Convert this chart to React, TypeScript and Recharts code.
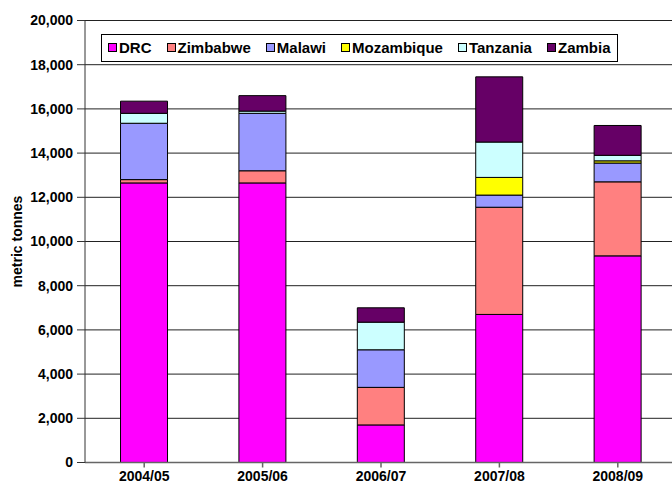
import { Bar, BarChart, CartesianGrid, Label, Legend, XAxis, YAxis } from "recharts";

const YEARS = ["2004/05", "2005/06", "2006/07", "2007/08", "2008/09"];
const DRC = [12650, 12650, 1700, 6700, 9350];
const ZIMBABWE = [150, 550, 1700, 4850, 3350];
const MALAWI = [2550, 2600, 1700, 550, 850];
const MOZAMBIQUE = [0, 0, 0, 800, 100];
const TANZANIA = [450, 100, 1250, 1600, 250];
const ZAMBIA = [550, 700, 650, 2950, 1350];
const Y_TICKS = [0, 2000, 4000, 6000, 8000, 10000, 12000, 14000, 16000, 18000, 20000];

const SERIES = [
  { key: "drc", name: "DRC", color: "#ff00ff", values: DRC },
  { key: "zimbabwe", name: "Zimbabwe", color: "#ff8080", values: ZIMBABWE },
  { key: "malawi", name: "Malawi", color: "#9999ff", values: MALAWI },
  { key: "mozambique", name: "Mozambique", color: "#ffff00", values: MOZAMBIQUE },
  { key: "tanzania", name: "Tanzania", color: "#ccffff", values: TANZANIA },
  { key: "zambia", name: "Zambia", color: "#660066", values: ZAMBIA },
];

const data = YEARS.map((year, i) => {
  const row: Record<string, string | number> = { year };
  SERIES.forEach((s) => {
    row[s.key] = s.values[i];
  });
  return row;
});

const FONT = "'Liberation Sans', Arial, sans-serif";

function LegendBox() {
  return (
    <div
      style={{
        boxSizing: "border-box",
        width: 517,
        height: 28,
        border: "1px solid #000",
        background: "#fff",
        display: "flex",
        alignItems: "center",
        paddingLeft: 6,
        gap: 15,
        fontFamily: FONT,
        fontWeight: "bold",
        fontSize: 15,
        color: "#000",
      }}
    >
      {SERIES.map((s) => (
        <div key={s.key} style={{ display: "flex", alignItems: "center", gap: 2 }}>
          <span
            style={{
              display: "inline-block",
              boxSizing: "border-box",
              width: 9,
              height: 9,
              background: s.color,
              border: "1px solid #000",
            }}
          />
          <span>{s.name}</span>
        </div>
      ))}
    </div>
  );
}

export default function App() {
  return (
    <div style={{ position: "absolute", left: 0, top: 0, width: 672, height: 493, overflow: "hidden", background: "#fff" }}>
      <BarChart
        width={690}
        height={493}
        data={data}
        margin={{ top: 20.5, right: 13, bottom: 0, left: 0 }}
        barCategoryGap="30%"
      >
        <CartesianGrid vertical={false} stroke="#222" />
        <XAxis
          dataKey="year"
          height={30.5}
          stroke="#666"
          strokeWidth={1.5}
          tickSize={5}
          tickMargin={4}
          tick={{ fill: "#000", fontFamily: FONT, fontWeight: "bold", fontSize: 14 }}
        />
        <YAxis
          width={85}
          domain={[0, 20000]}
          ticks={Y_TICKS}
          interval={0}
          stroke="#333"
          tickSize={8}
          tickMargin={4}
          tickFormatter={(v: number) => v.toLocaleString("en-US")}
          tick={{ fill: "#000", fontFamily: FONT, fontWeight: "bold", fontSize: 14 }}
        >
          <Label
            value="metric tonnes"
            angle={-90}
            position="insideLeft"
            offset={17}
            style={{ textAnchor: "middle", fontFamily: FONT, fontWeight: "bold", fontSize: 14, fill: "#000" }}
          />
        </YAxis>
        <Legend
          layout="horizontal"
          verticalAlign="middle"
          content={() => <LegendBox />}
          wrapperStyle={{ left: 101, top: 33.5, width: 517, height: 28 }}
        />
        {SERIES.map((s) => (
          <Bar
            key={s.key}
            dataKey={s.key}
            name={s.name}
            stackId="a"
            fill={s.color}
            stroke="#000"
            strokeWidth={1}
            isAnimationActive={false}
          />
        ))}
      </BarChart>
    </div>
  );
}
